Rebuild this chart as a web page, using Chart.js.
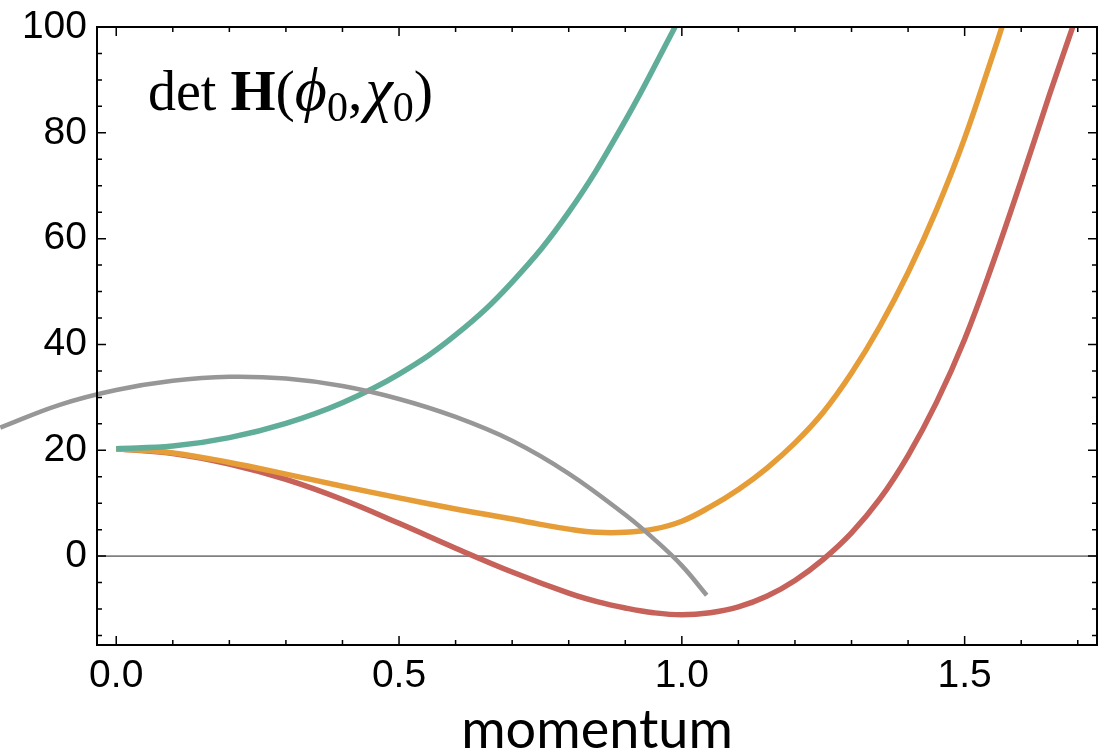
<!DOCTYPE html>
<html>
<head>
<meta charset="utf-8">
<script src="https://cdn.jsdelivr.net/npm/chart.js@4.4.1/dist/chart.umd.min.js"></script>
<style>
  html, body { margin: 0; padding: 0; background: #fff; }
</style>
</head>
<body>
<canvas id="chart" width="1113" height="752"></canvas>
<script>
'use strict'

// det H along each momentum path
const tealMomentum = [0, 0.1, 0.2, 0.3, 0.4, 0.5, 0.6, 0.7, 0.8, 0.9, 0.988]
const tealDet = [20.3, 20.8, 22.4, 25.1, 29.0, 34.4, 41.8, 51.8, 65.0, 82.3, 100]

const orangeMomentum = [0, 0.1, 0.2, 0.3, 0.4, 0.5, 0.6, 0.65, 0.7, 0.75, 0.8, 0.85, 0.9, 0.95, 1.0, 1.05, 1.1, 1.15, 1.2, 1.25, 1.3, 1.35, 1.4, 1.45, 1.5, 1.55, 1.566]
const orangeDet = [20.3, 19.5, 17.7, 15.5, 13.2, 11.0, 8.9, 7.95, 7.0, 6.0, 5.1, 4.5, 4.5, 5.1, 6.6, 9.3, 12.6, 16.6, 21.4, 27.2, 34.6, 43.4, 53.6, 65.4, 79.0, 94.8, 100]

const redMomentum = [0, 0.1, 0.2, 0.3, 0.4, 0.5, 0.6, 0.7, 0.8, 0.85, 0.9, 0.95, 1.0, 1.05, 1.1, 1.15, 1.2, 1.25, 1.3, 1.35, 1.4, 1.45, 1.5, 1.55, 1.6, 1.65, 1.691]
const redDet = [20.3, 19.4, 17.4, 14.5, 10.7, 6.2, 1.5, -3.0, -7.0, -8.6, -9.8, -10.7, -11.1, -10.7, -9.6, -7.6, -4.6, -0.6, 4.4, 10.8, 19.0, 29.0, 41.0, 55.4, 71.0, 87.2, 100]

const grayMomentum = [-0.205, -0.1, 0, 0.1, 0.2, 0.3, 0.4, 0.5, 0.6, 0.7, 0.8, 0.9, 0.95, 1.0, 1.044]
const grayDet = [24.3, 28.6, 31.4, 33.15, 33.9, 33.55, 32.15, 29.7, 26.3, 21.8, 15.6, 7.8, 3.3, -1.8, -7.4]

const xTicks = [0, 0.5, 1.0, 1.5]
const yTicks = [0, 20, 40, 60, 80, 100]
const xRange = [-0.034, 1.734]
const yRange = [-16.8, 100]

function points(xs, ys) {
    return xs.map((x, i) => ({ x: x, y: ys[i] }))
}

function curve(xs, ys, color, width) {
    return {
        data: points(xs, ys),
        borderColor: color,
        borderWidth: width,
        pointRadius: 0,
        tension: 0.4,
        fill: false
    }
}

// zero line under the curves, boxed frame with inward ticks on top
const framePlugin = {
    id: 'frame',
    beforeDatasetsDraw(chart) {
        const { ctx, chartArea: a, scales: { y } } = chart
        const y0 = y.getPixelForValue(0)
        ctx.save()
        ctx.strokeStyle = '#808080'
        ctx.lineWidth = 1.6
        ctx.beginPath()
        ctx.moveTo(a.left, y0)
        ctx.lineTo(a.right, y0)
        ctx.stroke()
        ctx.restore()
    },
    afterDraw(chart) {
        const { ctx, chartArea: a, scales: { x, y } } = chart
        ctx.save()
        ctx.strokeStyle = '#000'
        ctx.lineWidth = 1.5
        ctx.beginPath()
        for (let v = -15; v <= 100; v += 5) {
            const py = y.getPixelForValue(v)
            const len = v % 20 === 0 ? 9 : 5
            ctx.moveTo(a.left, py); ctx.lineTo(a.left + len, py)
            ctx.moveTo(a.right, py); ctx.lineTo(a.right - len, py)
        }
        for (let i = 0; i <= 17; i++) {
            const px = x.getPixelForValue(i / 10)
            const len = i % 5 === 0 ? 9 : 5
            ctx.moveTo(px, a.bottom); ctx.lineTo(px, a.bottom - len)
            ctx.moveTo(px, a.top); ctx.lineTo(px, a.top + len)
        }
        ctx.stroke()
        ctx.lineWidth = 2
        ctx.strokeRect(a.left, a.top, a.right - a.left, a.bottom - a.top)
        ctx.restore()
    }
}

// det H(phi0, chi0) label inside the plot
const labelParts = [
    { text: 'det ', font: '56px "Liberation Serif"', dy: 0 },
    { text: 'H', font: 'bold 58px "Liberation Serif"', dy: 0 },
    { text: '(', font: '58px "Liberation Serif"', dy: 0 },
    { text: 'ϕ', font: 'italic 62px "Liberation Serif"', dy: 0 },
    { text: '0', font: '42px "Liberation Serif"', dy: 11 },
    { text: ',', font: '58px "Liberation Serif"', dy: 0 },
    { text: 'χ', font: 'italic 62px "Liberation Serif"', dy: 0 },
    { text: '0', font: '42px "Liberation Serif"', dy: 11 },
    { text: ')', font: '58px "Liberation Serif"', dy: 0 }
]

const labelPlugin = {
    id: 'detLabel',
    afterDraw(chart) {
        const ctx = chart.ctx
        let px = 148
        const base = 110
        ctx.save()
        ctx.fillStyle = '#000'
        ctx.textBaseline = 'alphabetic'
        labelParts.forEach(p => {
            ctx.font = p.font
            ctx.fillText(p.text, px, base + p.dy)
            px += ctx.measureText(p.text).width + (p.text === ',' ? 3 : 0)
        })
        ctx.restore()
    }
}

const grayCurve = curve(grayMomentum, grayDet, '#979797', 4.5)
grayCurve.clip = false

new Chart(document.querySelector('#chart').getContext('2d'), {
    type: 'line',
    data: {
        datasets: [
            grayCurve,
            curve(tealMomentum, tealDet, '#60ae99', 5.5),
            curve(orangeMomentum, orangeDet, '#e69d38', 5.5),
            curve(redMomentum, redDet, '#c6625a', 5.5)
        ]
    },
    options: {
        responsive: false,
        animation: false,
        devicePixelRatio: 1,
        layout: { padding: { top: 27, right: 16, left: 0, bottom: 0 } },
        plugins: { legend: { display: false }, tooltip: { enabled: false } },
        scales: {
            x: {
                type: 'linear',
                bounds: 'data',
                // set here rather than with min/max so the gray curve keeps its points left of the frame
                afterDataLimits: s => { s.min = xRange[0]; s.max = xRange[1] },
                grid: { display: false, drawTicks: false },
                border: { display: false },
                afterBuildTicks: s => { s.ticks = xTicks.map(v => ({ value: v })) },
                afterFit: s => {
                    s.height = 107
                    s.paddingLeft = 0
                    s.paddingRight = 0
                },
                ticks: {
                    padding: 8,
                    color: '#000',
                    font: { family: '"Liberation Sans"', size: 39 },
                    callback: v => v.toFixed(1),
                    maxRotation: 0
                },
                title: {
                    display: true,
                    text: 'momentum',
                    color: '#000',
                    font: { family: 'Lato', size: 54, lineHeight: 1 },
                    padding: { top: 0, bottom: -6 }
                }
            },
            y: {
                min: yRange[0],
                max: yRange[1],
                grid: { display: false, drawTicks: false },
                border: { display: false },
                afterBuildTicks: s => { s.ticks = yTicks.map(v => ({ value: v })) },
                afterFit: s => {
                    s.width = 97
                    s.paddingTop = 0
                    s.paddingBottom = 0
                },
                ticks: {
                    padding: 10,
                    color: '#000',
                    font: { family: '"Liberation Sans"', size: 39 }
                }
            }
        }
    },
    plugins: [framePlugin, labelPlugin]
})
</script>
</body>
</html>
